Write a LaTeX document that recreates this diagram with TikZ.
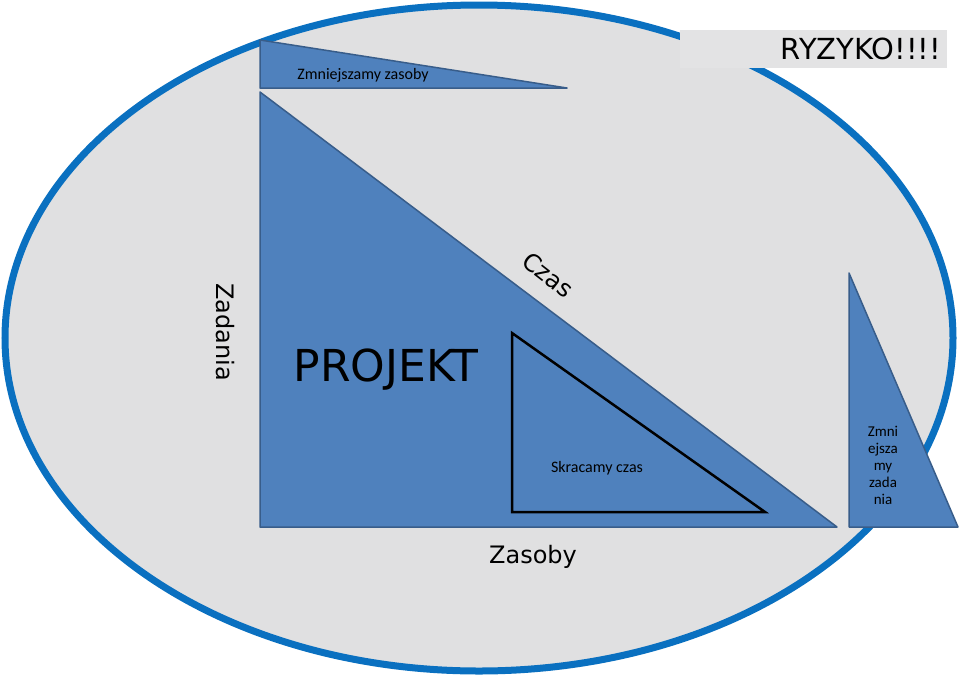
\documentclass[tikz,border=0pt]{standalone}
\usepackage{fontspec}
\setmainfont{Carlito}
\newfontfamily\dvs{DejaVu Sans}
\begin{document}
\begin{tikzpicture}[x=1pt,y=-1pt,
  tri/.style={fill=triblue,draw=triedge,line width=1.5pt,line join=round},
  lbl/.style={font=\fontsize{16}{18}\selectfont,align=center},
  big/.style={font=\dvs\fontsize{24}{26}\selectfont}]
\definecolor{triblue}{HTML}{4F81BD}
\definecolor{triedge}{HTML}{385D8A}
\definecolor{ringblue}{HTML}{0A70C0}
\definecolor{bg}{HTML}{E0E0E1}
\useasboundingbox (0,0) rectangle (959,678);
\draw[fill=bg,draw=ringblue,line width=7pt] (479,338) ellipse [x radius=474,y radius=333];
\node[fill=bg!90!white,minimum width=267pt,minimum height=38pt,inner sep=0pt,anchor=north west] (ryz) at (680,30) {};
\node[anchor=east,font=\dvs\fontsize{29}{30}\selectfont,inner sep=6pt] (ryzt) at (ryz.east) {RYZYKO!!!!};
\draw[tri] (260,40) -- (260,88) -- (567,88) -- cycle;
\node[lbl] (zz) at (363,75) {Zmniejszamy zasoby};
\draw[tri] (260,92) -- (260,527) -- (837,527) -- cycle;
\node[font=\dvs\fontsize{44}{46}\selectfont] (pr) at (386,370) {PROJEKT};
\node[big,rotate=-38] (cz) at (548,275) {Czas};
\node[big,rotate=-90] (zd) at (225,332) {Zadania};
\node[big] (zs) at (533,557) {Zasoby};
\draw[fill=triblue,draw=black,line width=2.5pt,line join=miter] (512,333) -- (512,512) -- (765,512) -- cycle;
\node[lbl] (sc) at (597,468) {Skracamy czas};
\draw[tri] (849,273) -- (849,527) -- (958,527) -- cycle;
\node[lbl,font=\fontsize{15}{17}\selectfont] (zm) at (883,465) {Zmni\\ejsza\\my\\zada\\nia};
\end{tikzpicture}
\end{document}
